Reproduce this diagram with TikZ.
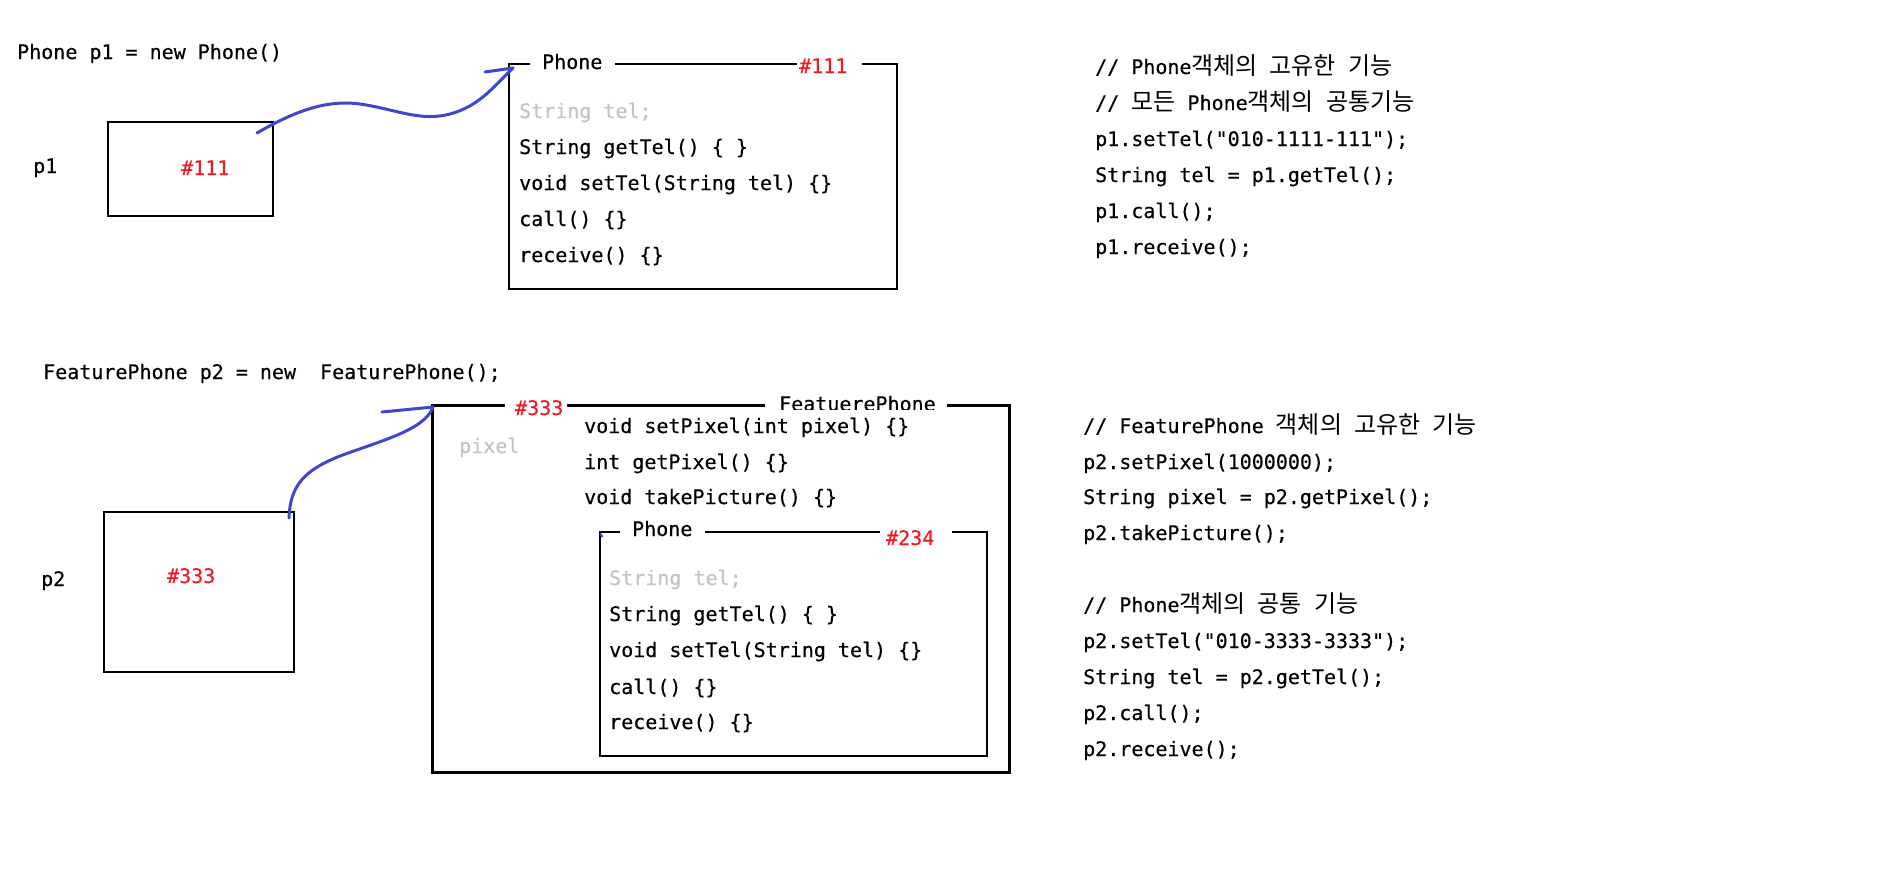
\documentclass[tikz,border=0pt]{standalone}
\usepackage{fontspec}
\setmonofont{DejaVu Sans Mono}[FakeBold=0.4]
\newfontfamily\kr{Noto Sans CJK KR}[Scale=1.2]
\definecolor{redc}{RGB}{237,28,36}
\definecolor{grayc}{RGB}{195,195,195}
\definecolor{bluec}{RGB}{63,72,204}
\begin{document}
\begin{tikzpicture}[x=1pt,y=-1pt,
  txt/.style={anchor=base west, inner sep=0pt, font=\ttfamily\fontsize{20}{24}\selectfont},
  redtxt/.style={txt, text=redc},
  graytxt/.style={txt, text=grayc},
  thinbox/.style={draw=black, line width=1.3pt},
  thickbox/.style={draw=black, line width=3pt},
  pen/.style={draw=bluec, line width=3pt, line cap=round}]
\useasboundingbox[fill=white] (0,0) rectangle (1898,868);

% ---------- top: Phone p1 ----------
\node[txt] (t1) at (17,59) {Phone p1 = new Phone()};
\node[txt] (p1lbl) at (33,173) {p1};
\node[thinbox, minimum width=165pt, minimum height=94pt, inner sep=0pt] (p1box) at (190.5,169) {};
\node[redtxt] (p1addr) at (181,175) {\#111};

% Phone object box
\draw[thinbox] (530,64) -- (509,64) -- (509,289) -- (897,289) -- (897,64) -- (862,64);
\draw[thinbox] (615,64) -- (797,64);
\node[txt] (ph1title) at (542,69) {Phone};
\node[redtxt] (ph1addr) at (799,73) {\#111};
\node[graytxt] (ph1a) at (519,118) {String tel;};
\node[txt] (ph1b) at (519,154) {String getTel() \{ \}};
\node[txt] (ph1c) at (519,190) {void setTel(String tel) \{\}};
\node[txt] (ph1d) at (519,226) {call() \{\}};
\node[txt] (ph1e) at (519,262) {receive() \{\}};

% blue connector 1
\coordinate (c1s) at (257,133);
\coordinate (c1e) at (513,68);
\coordinate (c1t) at (485,72);
\draw[pen] (c1s) .. controls (300,108) and (330,100) .. (360,104)
  .. controls (395,109) and (420,122) .. (450,114)
  .. controls (480,106) and (495,85) .. (c1e);
\draw[pen] (c1t) -- (c1e);

% right top code
\node[txt] (r1) at (1095,74) {// Phone{\kr 객체의} {\kr 고유한} {\kr 기능}};
\node[txt] (r2) at (1095,110) {// {\kr 모든} Phone{\kr 객체의} {\kr 공통기능}};
\node[txt] (r3) at (1095,146) {p1.setTel("010-1111-111");};
\node[txt] (r4) at (1095,182) {String tel = p1.getTel();};
\node[txt] (r5) at (1095,218) {p1.call();};
\node[txt] (r6) at (1095,254) {p1.receive();};

% ---------- bottom: FeaturePhone p2 ----------
\node[txt] (t2) at (43,379) {FeaturePhone p2 = new~~FeaturePhone();};
\node[txt] (p2lbl) at (41,586) {p2};
\node[thinbox, minimum width=190pt, minimum height=160pt, inner sep=0pt] (p2box) at (199,592) {};
\node[redtxt] (p2addr) at (167,583) {\#333};

% FeaturePhone object box
\draw[thickbox] (505,405) -- (432,405) -- (432,772) -- (1009,772) -- (1009,405) -- (947,405);
\draw[thickbox] (567,405) -- (765,405);
\node[redtxt] (fpaddr) at (515,415) {\#333};
\begin{scope}
  \clip (770,380) rectangle (945,409.5);
  \node[txt] (fptitle) at (779,411) {FeatuerePhone};
\end{scope}
\node[graytxt] (fpa) at (459,453) {pixel};
\node[txt] (fpb) at (584,433) {void setPixel(int pixel) \{\}};
\node[txt] (fpc) at (584,469) {int getPixel() \{\}};
\node[txt] (fpd) at (584,504) {void takePicture() \{\}};

% inner Phone box
\draw[thinbox] (620,532) -- (600,532) -- (600,756) -- (987,756) -- (987,532) -- (952,532);
\draw[thinbox] (705,532) -- (880,532);
\node[txt] (ph2title) at (632,536) {Phone};
\node[redtxt] (ph2addr) at (886,545) {\#234};
\node[graytxt] (ph2a) at (609,585) {String tel;};
\node[txt] (ph2b) at (609,621) {String getTel() \{ \}};
\node[txt] (ph2c) at (609,657) {void setTel(String tel) \{\}};
\node[txt] (ph2d) at (609,694) {call() \{\}};
\node[txt] (ph2e) at (609,729) {receive() \{\}};
\coordinate (dot1) at (600.5,534);
\coordinate (dot2) at (602.5,537);
\draw[draw=bluec, line width=2pt] (dot1) -- (dot2);

% blue connector 2
\coordinate (c2s) at (289,518);
\coordinate (c2e) at (433,407);
\coordinate (c2t) at (382,412);
\draw[pen] (c2s) .. controls (290,485) and (305,470) .. (340,456)
  .. controls (380,441) and (425,430) .. (c2e);
\draw[pen] (c2t) -- (c2e);

% right bottom code
\node[txt] (s1) at (1083,433) {// FeaturePhone {\kr 객체의} {\kr 고유한} {\kr 기능}};
\node[txt] (s2) at (1083,469) {p2.setPixel(1000000);};
\node[txt] (s3) at (1083,504) {String pixel = p2.getPixel();};
\node[txt] (s4) at (1083,540) {p2.takePicture();};
\node[txt] (s5) at (1083,612) {// Phone{\kr 객체의} {\kr 공통} {\kr 기능}};
\node[txt] (s6) at (1083,648) {p2.setTel("010-3333-3333");};
\node[txt] (s7) at (1083,684) {String tel = p2.getTel();};
\node[txt] (s8) at (1083,720) {p2.call();};
\node[txt] (s9) at (1083,756) {p2.receive();};
\end{tikzpicture}
\end{document}
